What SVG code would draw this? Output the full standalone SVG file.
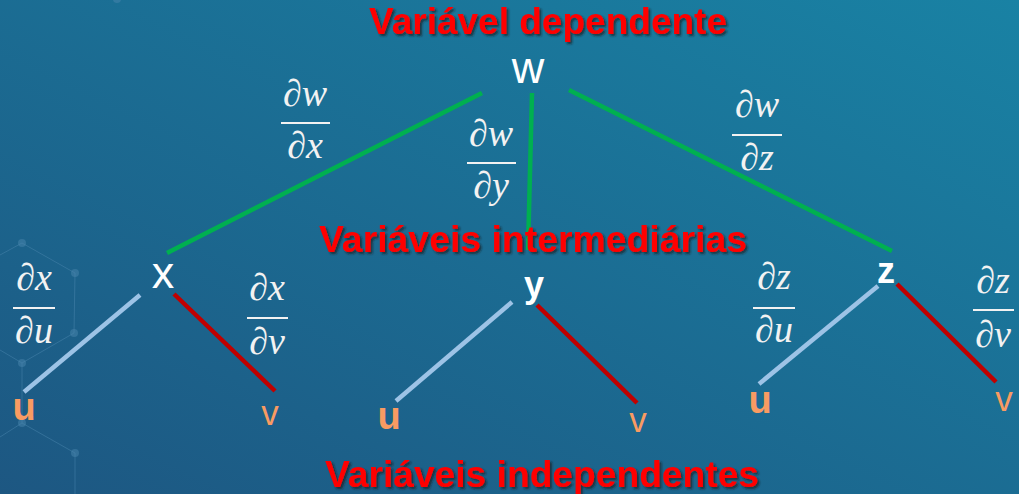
<svg xmlns="http://www.w3.org/2000/svg" width="1019" height="494" viewBox="0 0 1019 494">
<defs>
<linearGradient id="bg" x1="0" y1="1" x2="1" y2="0">
<stop offset="0" stop-color="#1d5782"/>
<stop offset="1" stop-color="#1982a4"/>
</linearGradient>
<filter id="sh" x="-5%" y="-30%" width="110%" height="160%">
<feDropShadow dx="2" dy="2" stdDeviation="1" flood-color="#1a1a1a" flood-opacity="0.7"/>
</filter>
<style>
.title{font-family:"Liberation Sans",Arial,sans-serif;font-weight:bold;font-size:37px;fill:#ff0000;text-anchor:middle;filter:url(#sh)}
.node{font-family:"Liberation Sans",Arial,sans-serif;fill:#ffffff;text-anchor:middle}
.leaf{font-family:"Liberation Sans",Arial,sans-serif;fill:#f99b62;text-anchor:middle}
.frac{font-family:"Liberation Serif","Times New Roman",serif;font-style:italic;font-size:38px;fill:#f2f2f2;text-anchor:middle}
.bar{stroke:#f2f2f2;stroke-width:2.2}
.g{stroke:#00b050;stroke-width:4.5;fill:none}
.b{stroke:#9dc3e6;stroke-width:4.5;fill:none}
.r{stroke:#c00000;stroke-width:4.5;fill:none}
.hex{stroke:#4a86ad;stroke-width:1;fill:none;opacity:0.5}
.dot{fill:#4a86ad;opacity:0.5}
</style>
</defs>
<rect width="1019" height="494" fill="url(#bg)"/>
<g id="pattern">
<path class="hex" d="M0,255 L22,243 L75,273 L74,333 L22,363 L0,350 M22,363 L22,423 L0,437 M22,423 L75,453 L75,494"/>
<circle class="dot" cx="22" cy="243" r="4"/>
<circle class="dot" cx="75" cy="273" r="4"/>
<circle class="dot" cx="74" cy="333" r="4"/>
<circle class="dot" cx="22" cy="363" r="4"/>
<circle class="dot" cx="22" cy="423" r="4"/>
<circle class="dot" cx="75" cy="453" r="4"/>
<circle class="dot" cx="117" cy="-1" r="4"/>
</g>
<g id="connectors">
<line class="g" x1="482" y1="93" x2="167" y2="253"/>
<line class="g" x1="532" y1="93" x2="528" y2="250"/>
<line class="g" x1="569" y1="90" x2="892" y2="251"/>
<line class="b" x1="140" y1="295" x2="24" y2="392"/>
<line class="r" x1="174" y1="294" x2="275" y2="391"/>
<line class="b" x1="512" y1="302" x2="396" y2="401"/>
<line class="r" x1="537" y1="305" x2="637" y2="403"/>
<line class="b" x1="878" y1="286" x2="759" y2="384"/>
<line class="r" x1="897" y1="284" x2="996" y2="382"/>
</g>
<g id="labels">
<text class="title" x="548" y="34" textLength="358" lengthAdjust="spacingAndGlyphs">Variável dependente</text>
<text class="title" x="533" y="252" textLength="428" lengthAdjust="spacingAndGlyphs">Variáveis intermediárias</text>
<text class="title" x="542" y="487" textLength="434" lengthAdjust="spacingAndGlyphs">Variáveis independentes</text>
</g>
<g id="node-w"><text class="node" x="528" y="83" font-size="45">w</text></g>
<g id="node-x"><text class="node" x="163" y="288" font-size="45">x</text></g>
<g id="node-y"><text class="node" x="534" y="297" font-size="36" font-weight="bold">y</text></g>
<g id="node-z"><text class="node" x="886" y="283" font-size="36" font-weight="bold">z</text></g>
<g id="node-xu"><text class="leaf" x="24" y="420" font-size="38" font-weight="bold">u</text></g>
<g id="node-xv"><text class="leaf" x="270" y="425" font-size="35">v</text></g>
<g id="node-yu"><text class="leaf" x="389" y="429" font-size="38" font-weight="bold">u</text></g>
<g id="node-yv"><text class="leaf" x="638" y="432" font-size="35">v</text></g>
<g id="node-zu"><text class="leaf" x="760" y="413" font-size="38" font-weight="bold">u</text></g>
<g id="node-zv"><text class="leaf" x="1004" y="411" font-size="35">v</text></g>
<g id="frac-wx">
<text class="frac" x="305" y="106">∂w</text>
<line class="bar" x1="281" y1="123" x2="330" y2="123"/>
<text class="frac" x="305" y="158">∂x</text>
</g>
<g id="frac-wy">
<text class="frac" x="491" y="146">∂w</text>
<line class="bar" x1="467" y1="163" x2="516" y2="163"/>
<text class="frac" x="491" y="198">∂y</text>
</g>
<g id="frac-wz">
<text class="frac" x="757" y="117">∂w</text>
<line class="bar" x1="732" y1="135" x2="782" y2="135"/>
<text class="frac" x="757" y="170">∂z</text>
</g>
<g id="frac-xu">
<text class="frac" x="34" y="290">∂x</text>
<line class="bar" x1="13" y1="308" x2="55" y2="308"/>
<text class="frac" x="34" y="343">∂u</text>
</g>
<g id="frac-xv">
<text class="frac" x="267" y="300">∂x</text>
<line class="bar" x1="247" y1="318" x2="288" y2="318"/>
<text class="frac" x="267" y="354">∂v</text>
</g>
<g id="frac-zu">
<text class="frac" x="774" y="289">∂z</text>
<line class="bar" x1="753" y1="308" x2="795" y2="308"/>
<text class="frac" x="774" y="342">∂u</text>
</g>
<g id="frac-zv">
<text class="frac" x="993" y="293">∂z</text>
<line class="bar" x1="973" y1="310" x2="1014" y2="310"/>
<text class="frac" x="993" y="347">∂v</text>
</g>
</svg>
